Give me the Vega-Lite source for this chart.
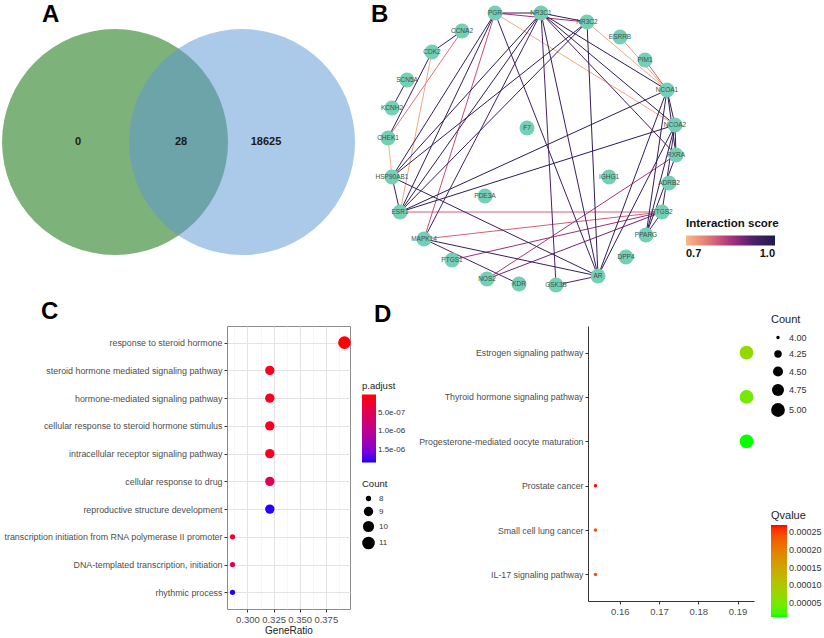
{
  "$schema": "https://vega.github.io/schema/vega-lite/v6.json",
  "background": "white",
  "padding": {"left": 2, "top": 2, "right": 2, "bottom": 2},
  "config": {
    "font": "Liberation Sans",
    "title": {"font": "Liberation Sans", "fontSize": 24, "fontWeight": "bold", "color": "#000000", "anchor": "start", "frame": "group", "offset": 2},
    "axis": {"labelFont": "Liberation Sans", "titleFont": "Liberation Sans", "labelColor": "#4D4D4D", "labelFontSize": 8.9, "tickColor": "#333333", "tickSize": 3, "titleColor": "#222222", "titleFontWeight": "normal", "titleFontSize": 10},
    "legend": {"labelFont": "Liberation Sans", "titleFont": "Liberation Sans", "titleFontWeight": "normal", "titleColor": "#222222", "labelColor": "#333333"}
  },
  "datasets": {
    "venn_sets": [
      {"set": "Set 1", "cx": 0, "cy": 0},
      {"set": "Set 2", "cx": 1.124, "cy": 0}
    ],
    "venn_counts": [
      {"region": "Set 1 only", "n": 0, "cx": -0.327, "cy": 0},
      {"region": "Both", "n": 28, "cx": 0.584, "cy": 0},
      {"region": "Set 2 only", "n": 18625, "cx": 1.336, "cy": 0}
    ],
    "nodes": [
      {"gene": "PGR", "x": 495, "y": 13}, {"gene": "NR3C1", "x": 541, "y": 13}, {"gene": "NR3C2", "x": 587, "y": 22},
      {"gene": "ESRRB", "x": 620, "y": 37}, {"gene": "PIM1", "x": 645, "y": 60}, {"gene": "NCOA1", "x": 667, "y": 90},
      {"gene": "NCOA2", "x": 675, "y": 125}, {"gene": "RXRA", "x": 676, "y": 155}, {"gene": "ADRB2", "x": 669, "y": 183},
      {"gene": "PTGS2", "x": 662, "y": 212}, {"gene": "PPARG", "x": 646, "y": 235}, {"gene": "DPP4", "x": 626, "y": 257},
      {"gene": "AR", "x": 598, "y": 276}, {"gene": "GSK3B", "x": 556, "y": 285}, {"gene": "KDR", "x": 519, "y": 284},
      {"gene": "NOS2", "x": 487, "y": 279}, {"gene": "PTGS1", "x": 452, "y": 260}, {"gene": "MAPK14", "x": 424, "y": 239},
      {"gene": "ESR1", "x": 400, "y": 212}, {"gene": "HSP90AB1", "x": 392, "y": 177}, {"gene": "CHEK1", "x": 388, "y": 138},
      {"gene": "KCNH2", "x": 392, "y": 108}, {"gene": "SCN5A", "x": 407, "y": 80}, {"gene": "CDK2", "x": 432, "y": 52},
      {"gene": "CCNA2", "x": 462, "y": 31}, {"gene": "F7", "x": 527, "y": 128}, {"gene": "IGHG1", "x": 609, "y": 177},
      {"gene": "PDE3A", "x": 485, "y": 196}
    ],
    "edges": [
      {"source": "PGR", "target": "NR3C1", "score": 0.97},
      {"source": "NR3C1", "target": "NR3C2", "score": 0.97},
      {"source": "PGR", "target": "NR3C2", "score": 0.86},
      {"source": "PGR", "target": "HSP90AB1", "score": 0.96},
      {"source": "PGR", "target": "ESR1", "score": 0.96},
      {"source": "PGR", "target": "MAPK14", "score": 0.82},
      {"source": "PGR", "target": "AR", "score": 0.95},
      {"source": "PGR", "target": "NCOA2", "score": 0.72},
      {"source": "NR3C1", "target": "HSP90AB1", "score": 0.98},
      {"source": "NR3C1", "target": "ESR1", "score": 0.97},
      {"source": "NR3C1", "target": "MAPK14", "score": 0.94},
      {"source": "NR3C1", "target": "GSK3B", "score": 0.93},
      {"source": "NR3C1", "target": "AR", "score": 0.96},
      {"source": "NR3C1", "target": "NCOA1", "score": 0.98},
      {"source": "NR3C1", "target": "NCOA2", "score": 0.98},
      {"source": "NR3C1", "target": "RXRA", "score": 0.94},
      {"source": "NR3C2", "target": "HSP90AB1", "score": 0.97},
      {"source": "NR3C2", "target": "ESR1", "score": 0.96},
      {"source": "NR3C2", "target": "AR", "score": 0.97},
      {"source": "NR3C2", "target": "NCOA1", "score": 0.72},
      {"source": "ESRRB", "target": "NCOA1", "score": 0.73},
      {"source": "PIM1", "target": "NCOA1", "score": 0.8},
      {"source": "CCNA2", "target": "CDK2", "score": 0.97},
      {"source": "CCNA2", "target": "CHEK1", "score": 0.78},
      {"source": "CDK2", "target": "CHEK1", "score": 0.96},
      {"source": "CDK2", "target": "ESR1", "score": 0.72},
      {"source": "SCN5A", "target": "KCNH2", "score": 0.95},
      {"source": "CHEK1", "target": "HSP90AB1", "score": 0.71},
      {"source": "HSP90AB1", "target": "ESR1", "score": 0.96},
      {"source": "HSP90AB1", "target": "AR", "score": 0.96},
      {"source": "ESR1", "target": "NCOA1", "score": 0.98},
      {"source": "ESR1", "target": "NCOA2", "score": 0.98},
      {"source": "ESR1", "target": "PTGS2", "score": 0.8},
      {"source": "MAPK14", "target": "PTGS2", "score": 0.8},
      {"source": "MAPK14", "target": "AR", "score": 0.96},
      {"source": "MAPK14", "target": "KDR", "score": 0.93},
      {"source": "PTGS1", "target": "PTGS2", "score": 0.86},
      {"source": "NOS2", "target": "PTGS2", "score": 0.9},
      {"source": "NOS2", "target": "RXRA", "score": 0.85},
      {"source": "GSK3B", "target": "AR", "score": 0.92},
      {"source": "AR", "target": "NCOA1", "score": 0.97},
      {"source": "AR", "target": "NCOA2", "score": 0.97},
      {"source": "NCOA1", "target": "NCOA2", "score": 0.97},
      {"source": "NCOA1", "target": "PPARG", "score": 0.97},
      {"source": "NCOA2", "target": "PPARG", "score": 0.97},
      {"source": "NCOA1", "target": "RXRA", "score": 0.97},
      {"source": "NCOA2", "target": "RXRA", "score": 0.97},
      {"source": "RXRA", "target": "PPARG", "score": 0.97},
      {"source": "PPARG", "target": "PTGS2", "score": 0.92},
      {"source": "NCOA2", "target": "PTGS2", "score": 0.95}
    ],
    "go": [
      {"term": "response to steroid hormone", "GeneRatio": 0.3929, "Count": 11, "padj": 3e-8},
      {"term": "steroid hormone mediated signaling pathway", "GeneRatio": 0.3214, "Count": 9, "padj": 1.2e-7},
      {"term": "hormone-mediated signaling pathway", "GeneRatio": 0.3214, "Count": 9, "padj": 1.3e-7},
      {"term": "cellular response to steroid hormone stimulus", "GeneRatio": 0.3214, "Count": 9, "padj": 1.4e-7},
      {"term": "intracellular receptor signaling pathway", "GeneRatio": 0.3214, "Count": 9, "padj": 1.5e-7},
      {"term": "cellular response to drug", "GeneRatio": 0.3214, "Count": 9, "padj": 5.5e-7},
      {"term": "reproductive structure development", "GeneRatio": 0.3214, "Count": 9, "padj": 1.8e-6},
      {"term": "transcription initiation from RNA polymerase II promoter", "GeneRatio": 0.2857, "Count": 8, "padj": 2.5e-7},
      {"term": "DNA-templated transcription, initiation", "GeneRatio": 0.2857, "Count": 8, "padj": 5.5e-7},
      {"term": "rhythmic process", "GeneRatio": 0.2857, "Count": 8, "padj": 1.8e-6}
    ],
    "kegg": [
      {"pathway": "Estrogen signaling pathway", "GeneRatio": 0.1923, "Count": 5, "q": 7.5e-5},
      {"pathway": "Thyroid hormone signaling pathway", "GeneRatio": 0.1923, "Count": 5, "q": 4.5e-5},
      {"pathway": "Progesterone-mediated oocyte maturation", "GeneRatio": 0.1923, "Count": 5, "q": 1.1e-5},
      {"pathway": "Prostate cancer", "GeneRatio": 0.1538, "Count": 4, "q": 2.69e-4},
      {"pathway": "Small cell lung cancer", "GeneRatio": 0.1538, "Count": 4, "q": 2.4e-4},
      {"pathway": "IL-17 signaling pathway", "GeneRatio": 0.1538, "Count": 4, "q": 2.4e-4}
    ]
  },
  "spacing": 6,
  "resolve": {"scale": {"x": "independent", "y": "independent", "color": "independent", "size": "independent"}},
  "vconcat": [
    {
      "spacing": 15,
      "resolve": {"scale": {"x": "independent", "y": "independent", "color": "independent", "size": "independent"}},
      "hconcat": [
        {
          "title": {"text": "A", "dx": -185},
          "width": 128,
          "height": 226,
          "view": {"stroke": null},
          "layer": [
            {
              "data": {"name": "venn_sets"},
              "mark": {"type": "circle", "size": 51076},
              "encoding": {
                "x": {"field": "cx", "type": "quantitative", "scale": {"domain": [0.991, 2.124], "nice": false, "zero": false}, "axis": null},
                "y": {"field": "cy", "type": "quantitative", "scale": {"domain": [-1, 1], "nice": false, "zero": false}, "axis": null},
                "color": {"field": "set", "type": "nominal", "scale": {"domain": ["Set 1", "Set 2"], "range": ["#7DB27A", "#5E97D4"]}, "legend": null},
                "opacity": {"condition": {"test": "datum.set === 'Set 2'", "value": 0.52}, "value": 1}
              }
            },
            {
              "data": {"name": "venn_counts"},
              "mark": {"type": "text", "fontSize": 11, "fontWeight": "bold", "color": "#1A1A1A"},
              "encoding": {
                "x": {"field": "cx", "type": "quantitative"},
                "y": {"field": "cy", "type": "quantitative"},
                "text": {"field": "n", "type": "quantitative", "format": "d"}
              }
            }
          ]
        },
        {
          "title": {"text": "B", "dx": -1, "offset": -21},
          "width": 425,
          "height": 263,
          "view": {"stroke": null},
          "layer": [
            {
              "data": {"name": "edges"},
              "transform": [
                {"lookup": "source", "from": {"data": {"name": "nodes"}, "key": "gene", "fields": ["x", "y"]}, "as": ["sx", "sy"]},
                {"lookup": "target", "from": {"data": {"name": "nodes"}, "key": "gene", "fields": ["x", "y"]}, "as": ["tx", "ty"]}
              ],
              "mark": {"type": "rule", "strokeWidth": 1},
              "encoding": {
                "x": {"field": "sx", "type": "quantitative", "scale": {"domain": [372, 797], "nice": false, "zero": false}, "axis": null},
                "y": {"field": "sy", "type": "quantitative", "scale": {"domain": [29, 292], "nice": false, "zero": false, "reverse": true}, "axis": null},
                "x2": {"field": "tx"},
                "y2": {"field": "ty"},
                "order": {"field": "score", "type": "quantitative"},
                "color": {
                  "field": "score", "type": "quantitative",
                  "scale": {"domain": [0.7, 0.775, 0.85, 0.925, 1.0], "range": ["#F7B98B", "#E07878", "#A8347F", "#4F1F6A", "#201A48"]},
                  "legend": {"title": "Interaction score", "orient": "none", "legendX": 314, "legendY": 189, "direction": "horizontal", "gradientLength": 89, "gradientThickness": 10, "values": [0.7, 1.0], "format": ".1f", "titleFontSize": 11.5, "titleFontWeight": "bold", "titleColor": "#111111", "labelFontSize": 11, "labelFontWeight": "bold", "labelColor": "#111111", "gradientStrokeWidth": 0, "titlePadding": 6}
                }
              }
            },
            {
              "data": {"name": "nodes"},
              "mark": {"type": "circle", "size": 225, "color": "#74CFB5", "opacity": 1},
              "encoding": {
                "x": {"field": "x", "type": "quantitative"},
                "y": {"field": "y", "type": "quantitative"}
              }
            },
            {
              "data": {"name": "nodes"},
              "mark": {"type": "text", "fontSize": 6.5, "color": "#3C4F4B"},
              "encoding": {
                "x": {"field": "x", "type": "quantitative"},
                "y": {"field": "y", "type": "quantitative"},
                "text": {"field": "gene", "type": "nominal"}
              }
            }
          ]
        }
      ]
    },
    {
      "spacing": -33,
      "resolve": {"scale": {"x": "independent", "y": "independent", "color": "independent", "size": "independent"}},
      "hconcat": [
        {
          "title": {"text": "C", "dx": -186},
          "width": 123,
          "height": 283,
          "view": {"stroke": "#8C8C8C"},
          "data": {"name": "go"},
          "mark": {"type": "circle", "opacity": 1},
          "encoding": {
            "x": {
              "field": "GeneRatio", "type": "quantitative",
              "scale": {"domain": [0.2804, 0.3982], "nice": false, "zero": false},
              "axis": {
                "title": "GeneRatio",
                "values": [0.2875, 0.3, 0.3125, 0.325, 0.3375, 0.35, 0.3625, 0.375, 0.3875],
                "labelExpr": "abs(datum.value*40 - round(datum.value*40)) < 0.001 ? format(datum.value, '.3f') : ''",
                "grid": true,
                "gridColor": {"condition": {"test": "abs(datum.value*40 - round(datum.value*40)) < 0.001", "value": "#E3E3E3"}, "value": "#F1F1F1"},
                "gridWidth": {"condition": {"test": "abs(datum.value*40 - round(datum.value*40)) < 0.001", "value": 1}, "value": 0.6},
                "tickSize": {"condition": {"test": "abs(datum.value*40 - round(datum.value*40)) < 0.001", "value": 3}, "value": 0},
                "domain": false, "labelPadding": 2, "titlePadding": 2, "labelFlush": false, "labelOverlap": false, "labelFontSize": 9.5
              }
            },
            "y": {
              "field": "term", "type": "nominal",
              "sort": ["response to steroid hormone", "steroid hormone mediated signaling pathway", "hormone-mediated signaling pathway", "cellular response to steroid hormone stimulus", "intracellular receptor signaling pathway", "cellular response to drug", "reproductive structure development", "transcription initiation from RNA polymerase II promoter", "DNA-templated transcription, initiation", "rhythmic process"],
              "scale": {"padding": 0.6},
              "axis": {"title": null, "grid": true, "gridColor": "#E3E3E3", "domain": false, "labelLimit": 400, "labelPadding": 2}
            },
            "color": {
              "field": "padj", "type": "quantitative",
              "scale": {"domain": [1.83e-6, 2e-8], "range": ["#0000FF", "#FF0000"], "interpolate": "lab"},
              "legend": {"title": "p.adjust", "orient": "none", "legendX": 135, "legendY": 55, "direction": "vertical", "gradientLength": 68, "gradientThickness": 14, "values": [5e-7, 1e-6, 1.5e-6], "labelExpr": "replace(format(datum.value, '.1e'), 'e-', 'e-0')", "labelFontSize": 8, "titleFontSize": 9.5, "titlePadding": 4, "gradientStrokeWidth": 0}
            },
            "size": {
              "field": "Count", "type": "quantitative",
              "scale": {"domain": [8, 9, 11], "range": [28, 88, 160]},
              "legend": {"title": "Count", "orient": "none", "legendX": 135, "legendY": 153, "values": [8, 9, 10, 11], "format": "d", "symbolFillColor": "black", "symbolStrokeColor": "black", "symbolStrokeWidth": 0, "symbolOpacity": 1, "symbolType": "circle", "labelFontSize": 8, "titleFontSize": 9.5, "titlePadding": 6, "rowPadding": 4}
            }
          }
        },
        {
          "title": {"text": "D", "dx": -214, "offset": -13},
          "width": 166,
          "height": 275,
          "view": {"stroke": null},
          "data": {"name": "kegg"},
          "mark": {"type": "circle", "opacity": 1},
          "encoding": {
            "x": {
              "field": "GeneRatio", "type": "quantitative",
              "scale": {"domain": [0.1519, 0.1942], "nice": false, "zero": false},
              "axis": {"title": null, "values": [0.16, 0.17, 0.18, 0.19], "format": ".2f", "grid": false, "domain": true, "domainColor": "#333333", "labelPadding": 2, "labelFontSize": 9.5}
            },
            "y": {
              "field": "pathway", "type": "nominal",
              "sort": ["Estrogen signaling pathway", "Thyroid hormone signaling pathway", "Progesterone-mediated oocyte maturation", "Prostate cancer", "Small cell lung cancer", "IL-17 signaling pathway"],
              "scale": {"padding": 0.6},
              "axis": {"title": null, "grid": false, "domainColor": "#333333", "labelLimit": 400, "labelPadding": 2, "labelFontSize": 8.8}
            },
            "color": {
              "field": "q", "type": "quantitative",
              "scale": {"domain": [1.06e-5, 2.7e-4], "range": ["#00FF00", "#FF0000"], "interpolate": "lab"},
              "legend": {"title": "Qvalue", "orient": "none", "legendX": 183, "legendY": 184, "direction": "vertical", "gradientLength": 92, "gradientThickness": 16, "values": [5e-5, 1e-4, 1.5e-4, 2e-4, 2.5e-4], "format": ".5f", "labelFontSize": 9, "titleFontSize": 11, "titlePadding": 4, "gradientStrokeWidth": 0}
            },
            "size": {
              "field": "Count", "type": "quantitative",
              "scale": {"domain": [4, 5], "range": [12, 190]},
              "legend": {"title": "Count", "orient": "none", "legendX": 183, "legendY": -12, "values": [4, 4.25, 4.5, 4.75, 5], "format": ".2f", "symbolFillColor": "black", "symbolStrokeColor": "black", "symbolStrokeWidth": 0, "symbolOpacity": 1, "symbolType": "circle", "labelFontSize": 9, "titleFontSize": 11, "titlePadding": 8, "rowPadding": 6.5}
            }
          }
        }
      ]
    }
  ]
}
